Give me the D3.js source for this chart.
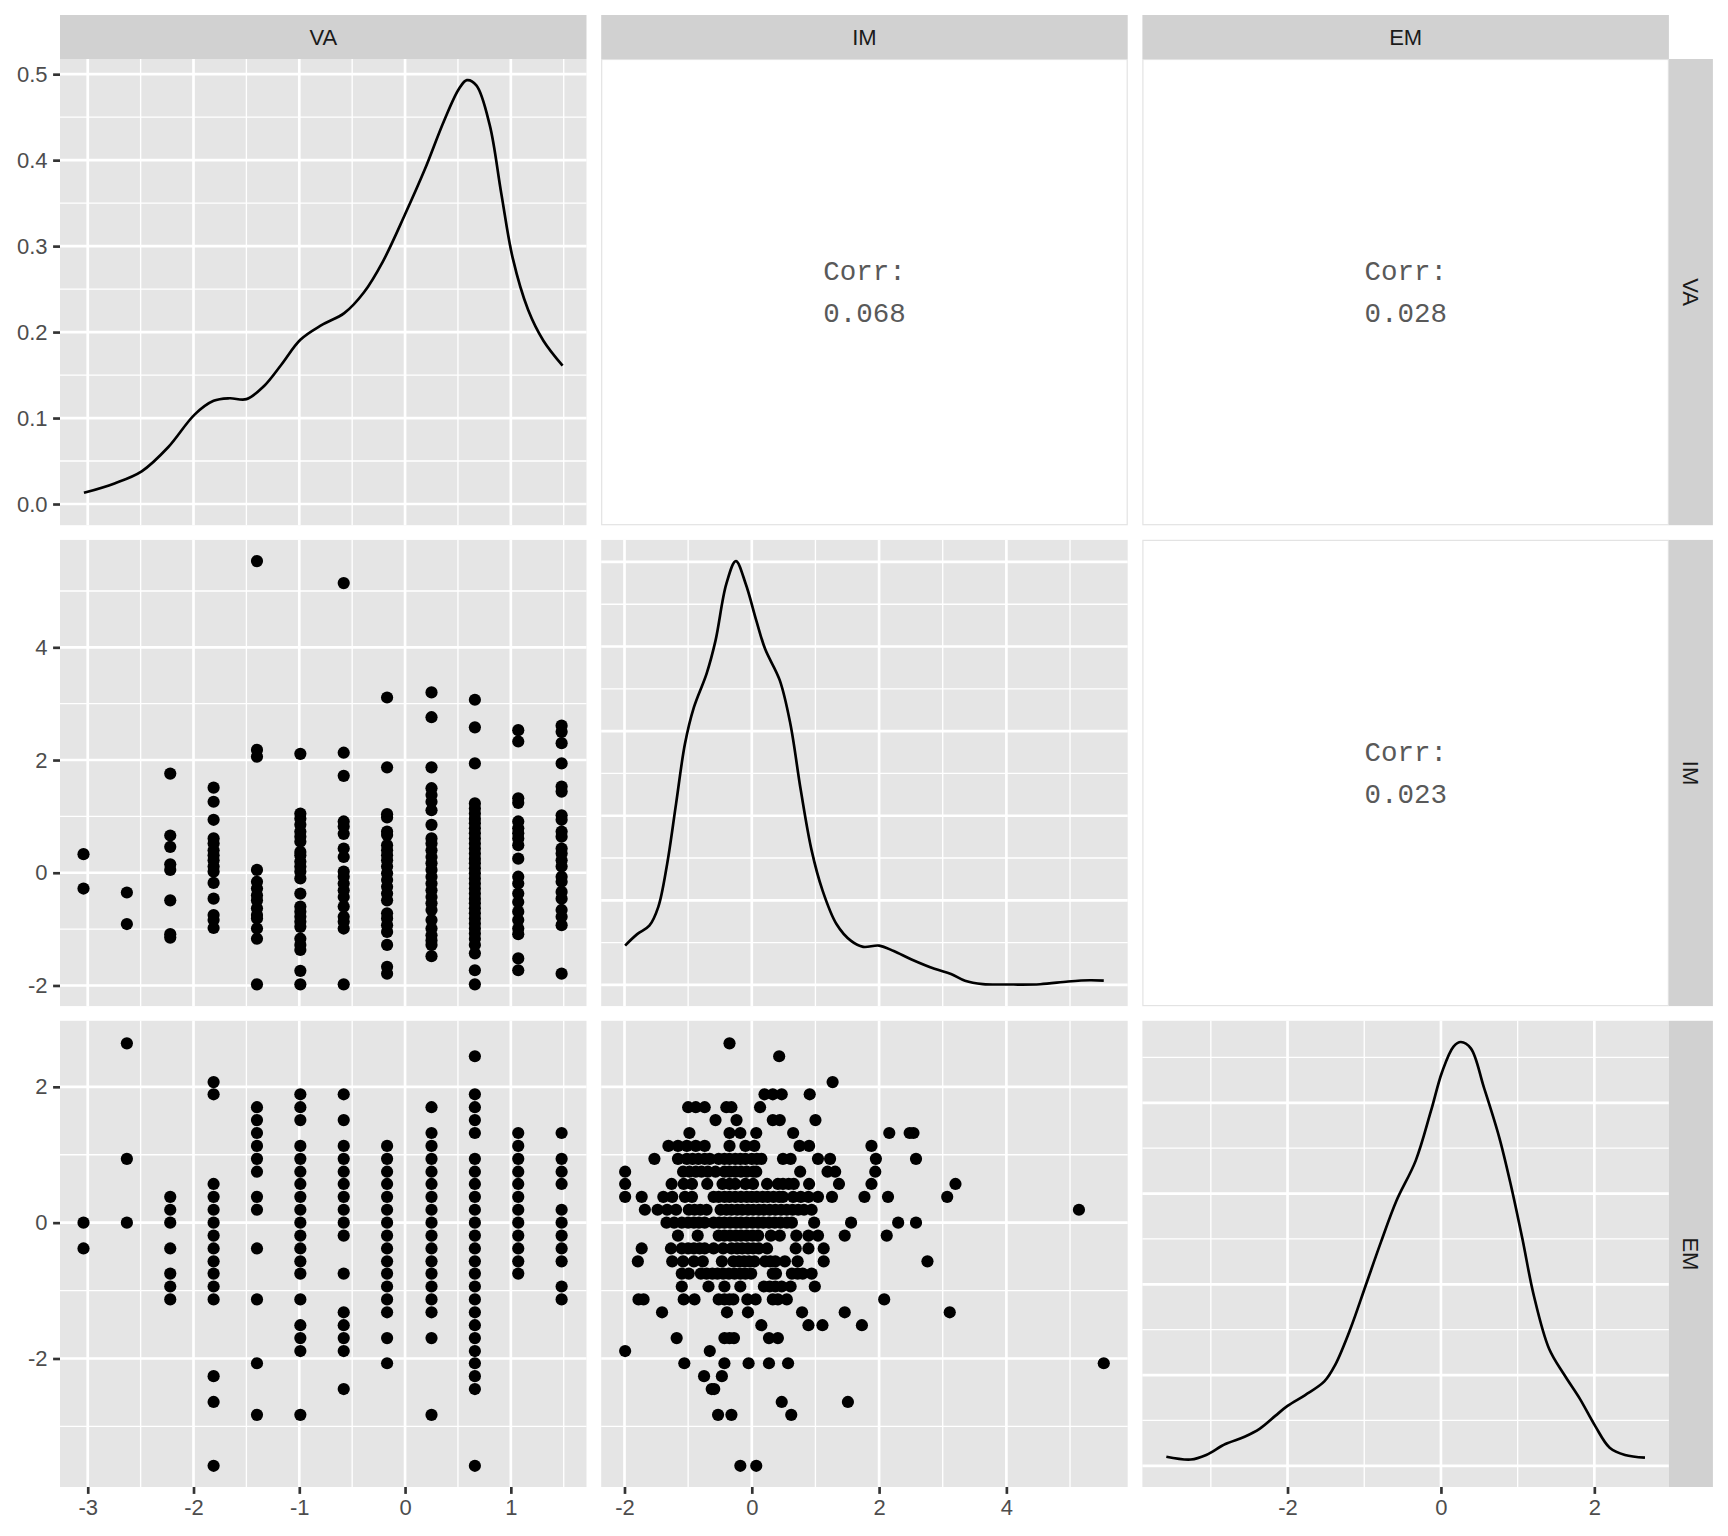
<!DOCTYPE html>
<html>
<head>
<meta charset="utf-8">
<script src="https://cdn.jsdelivr.net/npm/d3@7"></script>
<style>
  html, body { margin: 0; padding: 0; background: #ffffff; }
  svg { display: block; }
</style>
</head>
<body>
<svg id="chart" width="1728" height="1536"></svg>
<script>
// ---------------- DATA ----------------
const variables = ["VA", "IM", "EM"];
const corrValues = { "0-1": "0.068", "0-2": "0.028", "1-2": "0.023" };

// Density curves: [x, density]
const densVA = [
  [-3.036, 0.013], [-2.747, 0.024], [-2.49, 0.038], [-2.24, 0.066], [-1.99, 0.104],
  [-1.81, 0.120], [-1.66, 0.123], [-1.50, 0.122], [-1.335, 0.137], [-1.17, 0.162],
  [-0.99, 0.191], [-0.79, 0.208], [-0.575, 0.222], [-0.39, 0.246], [-0.21, 0.282],
  [0.0, 0.337], [0.186, 0.389], [0.366, 0.445], [0.51, 0.483], [0.584, 0.493],
  [0.674, 0.487], [0.80, 0.441], [0.91, 0.361], [1.018, 0.286], [1.163, 0.226],
  [1.308, 0.190], [1.489, 0.161]
];
const densIM = [
  [-1.99, 0.0465], [-1.80, 0.060], [-1.61, 0.070], [-1.47, 0.092], [-1.33, 0.143],
  [-1.19, 0.214], [-1.05, 0.285], [-0.91, 0.328], [-0.71, 0.368], [-0.57, 0.407],
  [-0.40, 0.474], [-0.25, 0.501], [-0.095, 0.474], [0.07, 0.431], [0.21, 0.397],
  [0.44, 0.360], [0.605, 0.309], [0.77, 0.230], [0.94, 0.159], [1.11, 0.112],
  [1.33, 0.072], [1.56, 0.052], [1.75, 0.045], [2.0, 0.0465], [2.23, 0.040],
  [2.51, 0.030], [2.87, 0.019], [3.13, 0.013], [3.35, 0.005], [3.63, 0.001],
  [4.02, 0.0005], [4.53, 0.0008], [4.97, 0.004], [5.31, 0.0055], [5.53, 0.005]
];
const densEM = [
  [-3.58, 0.010], [-3.26, 0.007], [-3.06, 0.012], [-2.81, 0.024], [-2.56, 0.032],
  [-2.36, 0.041], [-2.16, 0.055], [-2.0, 0.066], [-1.77, 0.078], [-1.52, 0.093],
  [-1.38, 0.111], [-1.18, 0.151], [-0.98, 0.199], [-0.78, 0.247], [-0.58, 0.292],
  [-0.33, 0.336], [-0.13, 0.391], [0.015, 0.434], [0.164, 0.462], [0.26, 0.467],
  [0.39, 0.460], [0.56, 0.417], [0.76, 0.362], [0.91, 0.310], [1.06, 0.251],
  [1.21, 0.188], [1.41, 0.129], [1.61, 0.100], [1.81, 0.074], [2.01, 0.044],
  [2.20, 0.020], [2.40, 0.012], [2.66, 0.009]
];

// Scatter VA (x) vs IM (y): [VA level, IM values]
const vaIm = [
  [-3.04, [0.33, -0.28]],
  [-2.63, [-0.35, -0.91]],
  [-2.22, [1.76, 0.66, 0.46, 0.15, 0.05, -0.49, -1.09, -1.15]],
  [-1.81, [1.51, 1.26, 0.94, 0.61, 0.52, 0.40, 0.31, 0.22, 0.11, 0.02, -0.18, -0.46, -0.75, -0.84, -0.98]],
  [-1.40, [5.53, 2.18, 2.06, 0.05, -0.16, -0.28, -0.40, -0.49, -0.63, -0.75, -0.81, -0.99, -1.17, -1.98]],
  [-0.99, [2.11, 1.05, 0.96, 0.85, 0.73, 0.64, 0.55, 0.37, 0.31, 0.20, 0.11, 0.02, -0.10, -0.37, -0.60, -0.69, -0.78, -0.87, -0.96, -1.17, -1.28, -1.37, -1.74, -1.98]],
  [-0.58, [5.14, 2.13, 1.72, 0.91, 0.82, 0.69, 0.43, 0.28, 0.02, -0.07, -0.19, -0.31, -0.43, -0.60, -0.78, -0.87, -0.99, -1.98]],
  [-0.17, [3.11, 1.87, 1.04, 0.98, 0.73, 0.67, 0.49, 0.40, 0.31, 0.22, 0.11, -0.01, -0.13, -0.25, -0.37, -0.49, -0.72, -0.81, -0.93, -1.05, -1.28, -1.67, -1.79]],
  [0.25, [3.20, 2.76, 1.87, 1.50, 1.38, 1.26, 1.11, 0.85, 0.61, 0.52, 0.40, 0.28, 0.17, 0.05, -0.07, -0.19, -0.31, -0.43, -0.54, -0.66, -0.84, -0.99, -1.11, -1.20, -1.28, -1.48]],
  [0.66, [3.07, 2.58, 1.94, 1.23, 1.14, 1.05, 0.96, 0.88, 0.79, 0.70, 0.61, 0.52, 0.43, 0.34, 0.25, 0.17, 0.08, -0.01, -0.10, -0.19, -0.28, -0.37, -0.46, -0.54, -0.63, -0.72, -0.81, -0.90, -0.99, -1.08, -1.17, -1.28, -1.43, -1.73, -1.98]],
  [1.07, [2.53, 2.33, 1.32, 1.24, 0.91, 0.79, 0.70, 0.61, 0.49, 0.25, -0.07, -0.19, -0.37, -0.52, -0.69, -0.84, -0.99, -1.09, -1.52, -1.73]],
  [1.48, [2.61, 2.50, 2.30, 1.94, 1.53, 1.44, 1.02, 0.94, 0.73, 0.64, 0.43, 0.34, 0.22, 0.11, -0.07, -0.16, -0.34, -0.46, -0.66, -0.78, -0.93, -1.79]]
];

// Scatter VA (x) vs EM (y): [VA level, EM values]
const vaEm = [
  [-3.04, [0, -0.38]],
  [-2.63, [2.64, 0.94, 0]],
  [-2.22, [0.38, 0.19, 0, -0.38, -0.75, -0.94, -1.13]],
  [-1.81, [2.07, 1.89, 0.57, 0.38, 0.19, 0, -0.19, -0.38, -0.57, -0.75, -0.94, -1.13, -2.26, -2.64, -3.58]],
  [-1.40, [1.70, 1.51, 1.32, 1.13, 0.94, 0.75, 0.38, 0.19, -0.38, -1.13, -2.07, -2.83]],
  [-0.99, [1.89, 1.70, 1.51, 1.13, 0.94, 0.75, 0.57, 0.38, 0.19, 0, -0.19, -0.38, -0.57, -0.75, -1.13, -1.51, -1.70, -1.89, -2.83]],
  [-0.58, [1.89, 1.51, 1.13, 0.94, 0.75, 0.57, 0.38, 0.19, 0, -0.19, -0.75, -1.32, -1.51, -1.70, -1.89, -2.45]],
  [-0.17, [1.13, 0.94, 0.75, 0.57, 0.38, 0.19, 0, -0.19, -0.38, -0.57, -0.75, -0.94, -1.13, -1.32, -1.70, -2.07]],
  [0.25, [1.70, 1.32, 1.13, 0.94, 0.75, 0.57, 0.38, 0.19, 0, -0.19, -0.38, -0.57, -0.75, -0.94, -1.13, -1.32, -1.70, -2.83]],
  [0.66, [2.45, 1.89, 1.70, 1.51, 1.32, 0.94, 0.75, 0.57, 0.38, 0.19, 0, -0.19, -0.38, -0.57, -0.75, -0.94, -1.13, -1.32, -1.51, -1.70, -1.89, -2.07, -2.26, -2.45, -3.58]],
  [1.07, [1.32, 1.13, 0.94, 0.75, 0.57, 0.38, 0.19, 0, -0.19, -0.38, -0.57, -0.75]],
  [1.48, [1.32, 0.94, 0.75, 0.57, 0.19, 0, -0.19, -0.38, -0.57, -0.94, -1.13]]
];

// Scatter IM (x) vs EM (y): [EM level, IM values]
const imEm = [
  [2.64, [-0.35]],
  [2.45, [0.43]],
  [2.07, [1.27]],
  [1.89, [0.20, 0.33, 0.47, 0.91]],
  [1.70, [-1.00, -0.88, -0.74, -0.40, -0.32, 0.13]],
  [1.51, [-0.57, -0.24, 0.33, 0.44, 1.00]],
  [1.32, [-0.98, -0.35, -0.18, 0.07, 0.65, 2.16, 2.48, 2.54]],
  [1.13, [-1.31, -1.16, -1.02, -0.88, -0.74, -0.35, -0.10, 0.04, 0.75, 0.90, 1.88]],
  [0.94, [-1.53, -1.16, -1.02, -0.93, -0.84, -0.74, -0.66, -0.52, -0.43, -0.35, -0.26, -0.18, -0.10, 0.0, 0.08, 0.15, 0.49, 0.61, 1.04, 1.23, 1.95, 2.58]],
  [0.75, [-1.99, -1.08, -0.98, -0.88, -0.79, -0.69, -0.57, -0.43, -0.35, -0.26, -0.17, -0.08, 0.02, 0.07, 0.76, 1.19, 1.31, 1.94]],
  [0.57, [-1.99, -1.26, -1.07, -0.94, -0.70, -0.46, -0.35, -0.26, -0.10, 0.02, 0.24, 0.41, 0.49, 0.58, 0.66, 0.90, 1.37, 1.88, 3.20]],
  [0.38, [-1.99, -1.73, -1.39, -1.25, -1.05, -0.94, -0.60, -0.52, -0.43, -0.35, -0.26, -0.17, -0.08, 0.0, 0.08, 0.17, 0.25, 0.34, 0.43, 0.49, 0.65, 0.77, 0.89, 1.04, 1.26, 1.77, 2.14, 3.07]],
  [0.19, [-1.68, -1.48, -1.33, -1.19, -0.99, -0.90, -0.81, -0.71, -0.49, -0.40, -0.32, -0.23, -0.15, -0.06, 0.02, 0.11, 0.19, 0.28, 0.37, 0.46, 0.55, 0.64, 0.73, 0.82, 0.94, 5.14]],
  [0, [-1.34, -1.22, -1.10, -1.00, -0.91, -0.83, -0.74, -0.60, -0.51, -0.43, -0.34, -0.25, -0.17, -0.08, 0.01, 0.10, 0.18, 0.27, 0.36, 0.45, 0.55, 0.63, 0.98, 1.56, 2.30, 2.58]],
  [-0.19, [-1.16, -0.85, -0.52, -0.43, -0.34, -0.25, -0.17, -0.08, 0.01, 0.10, 0.30, 0.44, 0.70, 0.89, 1.04, 1.46, 2.12]],
  [-0.38, [-1.73, -1.27, -1.10, -1.00, -0.91, -0.82, -0.74, -0.60, -0.45, -0.32, -0.23, -0.15, -0.06, 0.02, 0.11, 0.24, 0.69, 0.89, 1.13]],
  [-0.57, [-1.79, -1.25, -1.08, -0.91, -0.77, -0.47, -0.29, -0.20, -0.12, -0.04, 0.04, 0.21, 0.29, 0.37, 0.52, 0.72, 1.13, 2.76]],
  [-0.75, [-1.10, -0.99, -0.80, -0.71, -0.62, -0.54, -0.45, -0.36, -0.27, -0.18, -0.10, -0.01, 0.33, 0.38, 0.63, 0.72, 0.80, 0.94]],
  [-0.94, [-1.10, -0.68, -0.43, -0.18, 0.19, 0.28, 0.37, 0.47, 0.61, 0.99]],
  [-1.13, [-1.78, -1.70, -1.07, -0.90, -0.52, -0.43, -0.35, -0.29, -0.07, 0.06, 0.33, 0.41, 0.55, 2.08]],
  [-1.32, [-1.41, -0.39, -0.06, 0.79, 1.46, 3.11]],
  [-1.51, [0.15, 0.89, 1.11, 1.73]],
  [-1.70, [-1.18, -0.43, -0.35, -0.28, 0.27, 0.41]],
  [-1.89, [-1.99, -0.66]],
  [-2.07, [-1.06, -0.43, -0.05, 0.27, 0.57, 5.53]],
  [-2.26, [-0.75, -0.47]],
  [-2.45, [-0.63, -0.59]],
  [-2.64, [0.47, 1.51]],
  [-2.83, [-0.53, -0.32, 0.62]],
  [-3.58, [-0.18, 0.07]]
];

// Tick values (major / minor)
const ticksVA = [-3, -2, -1, 0, 1];
const minorVA = [-2.5, -1.5, -0.5, 0.5, 1.5];
const ticksIM = [-2, 0, 2, 4];
const minorIM = [-1, 1, 3, 5];
const ticksEM = [-2, 0, 2];
const minorEM = [-3, -1, 1];
const ticksDens = [0, 0.1, 0.2, 0.3, 0.4, 0.5];
const minorDens = [0.05, 0.15, 0.25, 0.35, 0.45];
const tickLabelsDens = ["0.0", "0.1", "0.2", "0.3", "0.4", "0.5"];

// ---------------- LAYOUT ----------------
const L = 60, T = 59, W = 526.5, H = 466.2, G = 14.7, STRIP = 44;
const colX = i => L + i * (W + G);
const rowY = j => T + j * (H + G);
const FONT = "'Liberation Sans', Arial, Helvetica, sans-serif";
const MAJ = 2.67, MIN = 1.34, TICKLEN = 6.9, TICKPAD = 5.5, FS = 22;
const PANEL_BG = "#E5E5E5", STRIP_BG = "#D1D1D1";

function expand(ext, mult = 0.05) {
  const r = ext[1] - ext[0];
  return [ext[0] - r * mult, ext[1] + r * mult];
}
const domVA = expand(d3.extent(densVA, d => d[0]));
const domIM = expand(d3.extent(densIM, d => d[0]));
const domEM = expand(d3.extent(densEM, d => d[0]));
const domains = [domVA, domIM, domEM];
const majors = [ticksVA, ticksIM, ticksEM];
const minors = [minorVA, minorIM, minorEM];
const densities = [densVA, densIM, densEM];

const svg = d3.select("#chart");
svg.append("rect").attr("width", 1728).attr("height", 1536).attr("fill", "#ffffff");

function xScale(i) { return d3.scaleLinear().domain(domains[i]).range([colX(i), colX(i) + W]); }
function yScale(j) { return d3.scaleLinear().domain(domains[j]).range([rowY(j) + H, rowY(j)]); }
function densScale(i) {
  const mx = d3.max(densities[i], d => d[1]);
  return d3.scaleLinear().domain(expand([0, mx])).range([rowY(i) + H, rowY(i)]);
}

function grid(g, x, y, xMaj, xMin, yMaj, yMin, i, j) {
  const x0 = colX(i), y0 = rowY(j);
  g.append("rect").attr("x", x0).attr("y", y0).attr("width", W).attr("height", H).attr("fill", PANEL_BG);
  const lines = g.append("g").attr("stroke", "#ffffff");
  yMin.forEach(v => lines.append("line").attr("x1", x0).attr("x2", x0 + W).attr("y1", y(v)).attr("y2", y(v)).attr("stroke-width", MIN));
  xMin.forEach(v => lines.append("line").attr("y1", y0).attr("y2", y0 + H).attr("x1", x(v)).attr("x2", x(v)).attr("stroke-width", MIN));
  yMaj.forEach(v => lines.append("line").attr("x1", x0).attr("x2", x0 + W).attr("y1", y(v)).attr("y2", y(v)).attr("stroke-width", MAJ));
  xMaj.forEach(v => lines.append("line").attr("y1", y0).attr("y2", y0 + H).attr("x1", x(v)).attr("x2", x(v)).attr("stroke-width", MAJ));
}

const line = d3.line().curve(d3.curveCatmullRom.alpha(0.5));

for (let j = 0; j < 3; j++) {
  for (let i = 0; i < 3; i++) {
    const g = svg.append("g");
    const x = xScale(i);
    if (i === j) {
      const y = densScale(i);
      grid(g, x, y, majors[i], minors[i], ticksDens.filter(v => v <= y.domain()[1]), minorDens.filter(v => v <= y.domain()[1]), i, j);
      g.append("path")
        .attr("d", line(densities[i].map(d => [x(d[0]), y(d[1])])))
        .attr("fill", "none").attr("stroke", "#000000").attr("stroke-width", 2.67)
        .attr("stroke-linejoin", "round").attr("stroke-linecap", "butt");
    } else if (i > j) {
      g.append("rect").attr("x", colX(i) + 0.5).attr("y", rowY(j) + 0.5).attr("width", W - 1).attr("height", H - 1)
        .attr("fill", "#ffffff").attr("stroke", "#E3E3E3").attr("stroke-width", 1.2);
      const cx = colX(i) + W / 2, cy = rowY(j) + H / 2;
      const t = g.append("text").attr("x", cx).attr("text-anchor", "middle")
        .attr("font-family", "'Courier New', 'Liberation Mono', 'DejaVu Sans Mono', monospace")
        .attr("font-size", 27.5).attr("fill", "#595959");
      t.append("tspan").attr("x", cx).attr("y", cy - 12).text("Corr:");
      t.append("tspan").attr("x", cx).attr("y", cy + 30).text(corrValues[j + "-" + i]);
    } else {
      const y = yScale(j);
      grid(g, x, y, majors[i], minors[i], majors[j], minors[j], i, j);
      let pts = [];
      if (i === 0 && j === 1) vaIm.forEach(([v, arr]) => arr.forEach(w => pts.push([v, w])));
      if (i === 0 && j === 2) vaEm.forEach(([v, arr]) => arr.forEach(w => pts.push([v, w])));
      if (i === 1 && j === 2) imEm.forEach(([v, arr]) => arr.forEach(w => pts.push([w, v])));
      g.selectAll("circle").data(pts).join("circle")
        .attr("cx", d => x(d[0])).attr("cy", d => y(d[1])).attr("r", 6.1).attr("fill", "#000000");
    }
  }
}

// Top strips
variables.forEach((v, i) => {
  svg.append("rect").attr("x", colX(i)).attr("y", T - STRIP).attr("width", W).attr("height", STRIP).attr("fill", STRIP_BG);
  svg.append("text").attr("x", colX(i) + W / 2).attr("y", T - STRIP / 2)
    .attr("text-anchor", "middle").attr("dominant-baseline", "central")
    .attr("font-family", FONT).attr("font-size", FS).attr("fill", "#1A1A1A").text(v);
});
// Right strips
variables.forEach((v, j) => {
  const sx = colX(2) + W;
  svg.append("rect").attr("x", sx).attr("y", rowY(j)).attr("width", STRIP).attr("height", H).attr("fill", STRIP_BG);
  svg.append("text").attr("transform", `translate(${sx + STRIP / 2},${rowY(j) + H / 2}) rotate(90)`)
    .attr("text-anchor", "middle").attr("dominant-baseline", "central")
    .attr("font-family", FONT).attr("font-size", FS).attr("fill", "#1A1A1A").text(v);
});

// Axes
function styleAxis(g) {
  g.select(".domain").remove();
  g.selectAll(".tick line").attr("stroke", "#333333").attr("stroke-width", 2.67);
  g.selectAll(".tick text").attr("fill", "#4D4D4D").attr("font-family", FONT).attr("font-size", FS);
}
// Left axes
const y0 = densScale(0);
svg.append("g").attr("transform", `translate(${L},0)`)
  .call(d3.axisLeft(y0).tickValues(ticksDens).tickFormat((d, k) => tickLabelsDens[k]).tickSize(TICKLEN).tickPadding(TICKPAD))
  .call(styleAxis);
[1, 2].forEach(j => {
  svg.append("g").attr("transform", `translate(${L},0)`)
    .call(d3.axisLeft(yScale(j)).tickValues(majors[j]).tickFormat(d3.format("d")).tickSize(TICKLEN).tickPadding(TICKPAD))
    .call(styleAxis);
});
// Bottom axes
[0, 1, 2].forEach(i => {
  svg.append("g").attr("transform", `translate(0,${rowY(2) + H})`)
    .call(d3.axisBottom(xScale(i)).tickValues(majors[i]).tickFormat(d => String(d)).tickSize(TICKLEN).tickPadding(TICKPAD))
    .call(styleAxis);
});
svg.selectAll(".tick text").text(function() { return this.textContent.replace("\u2212", "-"); });
</script>
</body>
</html>
